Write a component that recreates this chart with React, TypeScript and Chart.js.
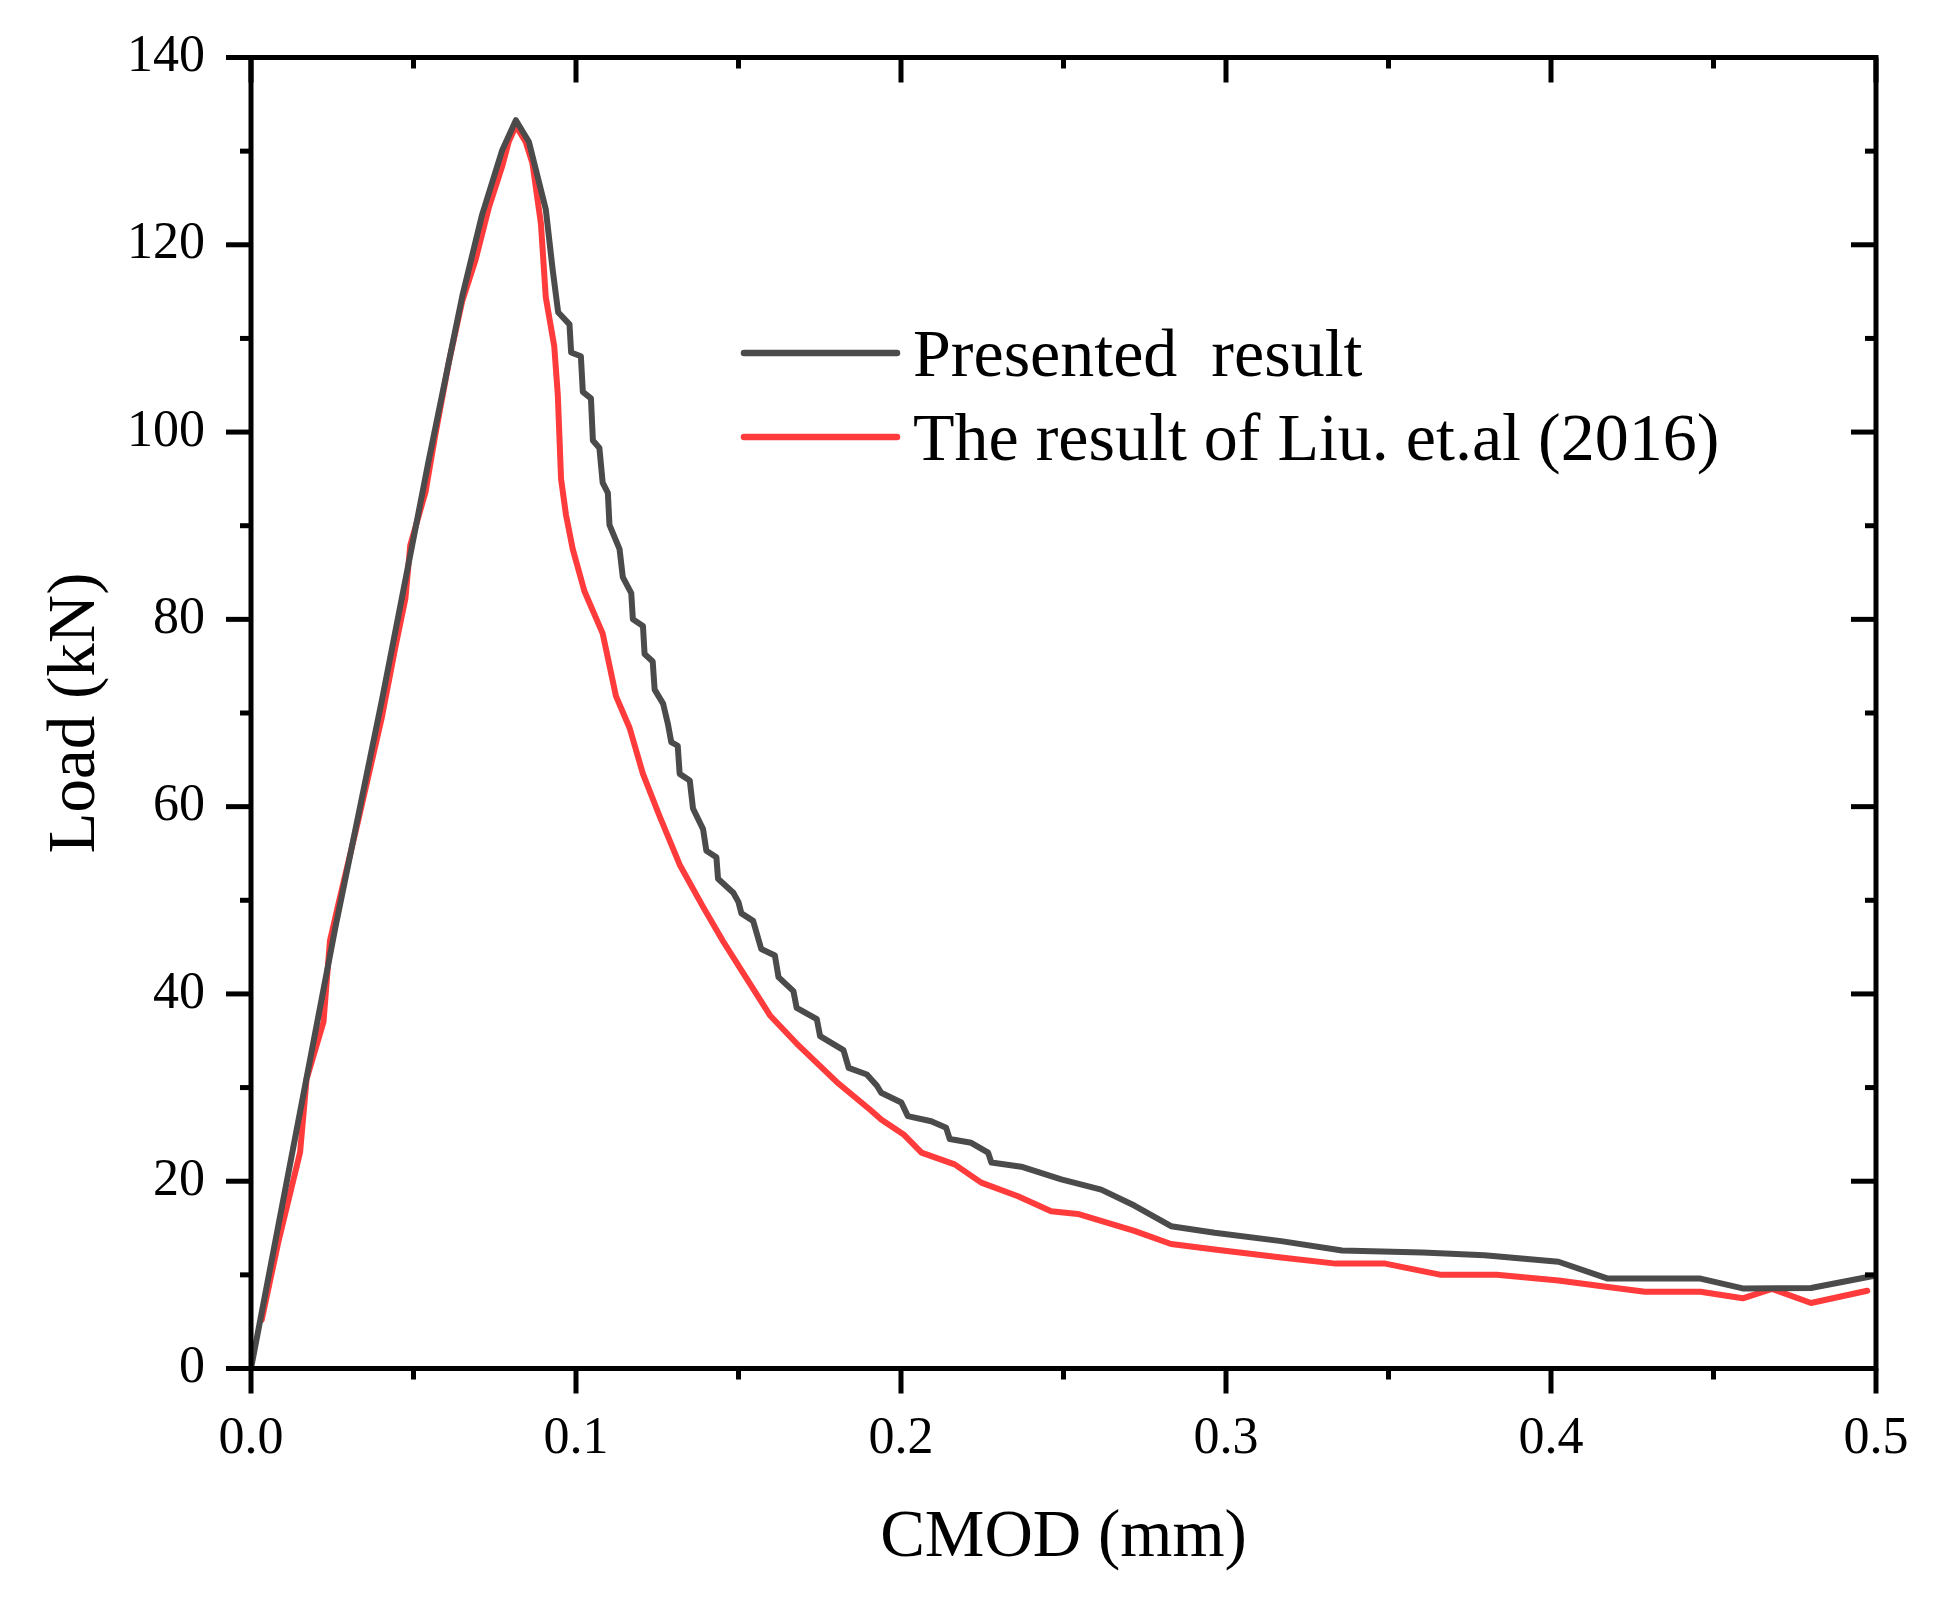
import React, { useEffect, useRef } from 'react';
import { Chart, registerables } from 'chart.js';

Chart.register(...registerables);

const FONT = "'Liberation Serif', 'Times New Roman', serif";

// CMOD (mm) / Load (kN) — Presented result
const presentedX = [
  0, 0.0259, 0.0403, 0.0547, 0.065, 0.0711, 0.0773, 0.0815, 0.0855, 0.0907, 0.0928, 0.0945,
  0.098, 0.0985, 0.1015, 0.1021, 0.1046, 0.1052, 0.1072, 0.1082, 0.1098, 0.1103, 0.1134, 0.1144,
  0.117, 0.1175, 0.1206, 0.1211, 0.1236, 0.1242, 0.1268, 0.1283, 0.1293, 0.1313, 0.1319, 0.135,
  0.136, 0.1391, 0.1401, 0.1432, 0.1437, 0.1484, 0.15, 0.1509, 0.1545, 0.157, 0.1612, 0.1623,
  0.1669, 0.1679, 0.1741, 0.1751, 0.1823, 0.1839, 0.1895, 0.1926, 0.1939, 0.2001, 0.2021, 0.2093,
  0.2139, 0.215, 0.2216, 0.2268, 0.2278, 0.237, 0.2493, 0.2616, 0.2718, 0.2831, 0.2965, 0.317,
  0.3357, 0.3605, 0.3795, 0.4023, 0.4175, 0.446, 0.459, 0.48, 0.4995,
];
const presentedY = [
  0, 47, 71.4, 97, 114.5, 123.2, 130.1, 133.3, 131, 123.8, 117.4, 112.8,
  111.5, 108.5, 108.1, 104.3, 103.6, 99.1, 98.3, 94.6, 93.5, 90.1, 87.5, 84.5,
  82.8, 80, 79.3, 76.3, 75.5, 72.5, 71, 68.8, 66.9, 66.5, 63.5, 62.8,
  59.8, 57.6, 55.3, 54.6, 52.3, 50.8, 49.8, 48.6, 47.8, 44.8, 44.1, 41.8,
  40.3, 38.5, 37.3, 35.5, 34, 32.1, 31.4, 30.2, 29.45, 28.4, 26.95, 26.4,
  25.7, 24.5, 24.1, 23.05, 22, 21.55, 20.2, 19.1, 17.4, 15.2, 14.5, 13.6,
  12.6, 12.4, 12.1, 11.4, 9.6, 9.6, 8.55, 8.6, 9.9,
];

// The result of Liu. et.al (2016)
const liuX = [
  0.0033, 0.0084, 0.0151, 0.0171, 0.0223, 0.0243, 0.0269, 0.0331, 0.0403, 0.0444, 0.0475, 0.049,
  0.0537, 0.0567, 0.0609, 0.065, 0.0691, 0.0732, 0.0773, 0.0793, 0.0815, 0.0845, 0.0866, 0.0892,
  0.0907, 0.0933, 0.0944, 0.0954, 0.0969, 0.099, 0.1026, 0.1082, 0.1123, 0.1165, 0.1206, 0.1257,
  0.1319, 0.1391, 0.1453, 0.1515, 0.1597, 0.1679, 0.1802, 0.1906, 0.1939, 0.2008, 0.2063, 0.2165,
  0.2247, 0.236, 0.2462, 0.2544, 0.2718, 0.2831, 0.2965, 0.317, 0.3338, 0.349, 0.3662, 0.3833,
  0.4023, 0.4175, 0.4289, 0.446, 0.459, 0.468, 0.48, 0.4973,
];
const liuY = [
  5.2, 13.5, 23.1, 30.9, 37, 45.7, 49.6, 58.7, 69.6, 77, 82.2, 87.9,
  93.6, 99.7, 107.5, 114, 118.4, 124, 128.4, 131, 132.7, 131, 128.7, 122.3,
  114.4, 109.2, 104, 95, 91.2, 87.5, 83, 78.5, 71.8, 68.4, 63.5, 59,
  53.8, 49.3, 45.6, 42.2, 37.7, 34.7, 30.6, 27.6, 26.6, 25, 23.05, 21.8,
  19.85, 18.4, 16.8, 16.5, 14.7, 13.3, 12.7, 11.85, 11.2, 11.2, 10, 10,
  9.4, 8.7, 8.2, 8.2, 7.5, 8.5, 7.0, 8.3,
];

const seriesLabels = ['Presented  result', 'The result of Liu. et.al (2016)'];
const seriesColors = ['#4b4b4b', '#ff3b3b'];

const xMajorTicks = [0, 0.1, 0.2, 0.3, 0.4, 0.5];
const xMinorTicks = [0.05, 0.15, 0.25, 0.35, 0.45];
const xTickLabels = ['0.0', '0.1', '0.2', '0.3', '0.4', '0.5'];
const yMajorTicks = [0, 20, 40, 60, 80, 100, 120, 140];
const yMinorTicks = [10, 30, 50, 70, 90, 110, 130];
const yTickLabels = ['0', '20', '40', '60', '80', '100', '120', '140'];

const xTitle = 'CMOD (mm)';
const yTitle = 'Load (kN)';

const framePlugin = {
  id: 'frameTicks',
  afterDatasetsDraw(chart: any) {
    const { ctx, chartArea: a, scales } = chart;
    const xs = scales.x;
    const ys = scales.y;
    ctx.save();
    ctx.strokeStyle = '#000';
    ctx.lineWidth = 5;
    ctx.lineCap = 'butt';
    ctx.lineJoin = 'miter';
    ctx.strokeRect(a.left, a.top, a.right - a.left, a.bottom - a.top);
    const line = (x1: number, y1: number, x2: number, y2: number) => {
      ctx.beginPath();
      ctx.moveTo(x1, y1);
      ctx.lineTo(x2, y2);
      ctx.stroke();
    };
    const MAJ = 25;
    const MIN = 11;
    xMajorTicks.forEach((v) => {
      const px = xs.getPixelForValue(v);
      line(px, a.bottom, px, a.bottom + MAJ);
      line(px, a.top, px, a.top + MAJ);
    });
    xMinorTicks.forEach((v) => {
      const px = xs.getPixelForValue(v);
      line(px, a.bottom, px, a.bottom + MIN);
      line(px, a.top, px, a.top + MIN);
    });
    yMajorTicks.forEach((v) => {
      const py = ys.getPixelForValue(v);
      line(a.left - MAJ, py, a.left, py);
      line(a.right - MAJ, py, a.right, py);
    });
    yMinorTicks.forEach((v) => {
      const py = ys.getPixelForValue(v);
      line(a.left - MIN, py, a.left, py);
      line(a.right - MIN, py, a.right, py);
    });
    ctx.restore();
  },
};

const legendPlugin = {
  id: 'insideLegend',
  afterDraw(chart: any) {
    const { ctx } = chart;
    const ds = chart.data.datasets;
    const x0 = 744;
    const x1 = 897;
    const rows = [353, 437];
    ctx.save();
    ds.forEach((d: any, i: number) => {
      const y = rows[i];
      ctx.strokeStyle = d.borderColor;
      ctx.lineWidth = 6.5;
      ctx.lineCap = 'round';
      ctx.beginPath();
      ctx.moveTo(x0, y);
      ctx.lineTo(x1, y);
      ctx.stroke();
      ctx.fillStyle = '#000';
      ctx.font = `68px ${FONT}`;
      ctx.textAlign = 'left';
      ctx.textBaseline = 'alphabetic';
      ctx.fillText(d.label, 913, y + 23);
    });
    ctx.restore();
  },
};

const zeroPad = (s: any) => {
  s.paddingTop = 0;
  s.paddingBottom = 0;
  s.paddingLeft = 0;
  s.paddingRight = 0;
};

export default function App() {
  const ref = useRef<HTMLCanvasElement | null>(null);

  useEffect(() => {
    document.body.style.margin = '0';
    const canvas = ref.current;
    if (!canvas) return;
    const toPoints = (xs: number[], ys: number[]) => xs.map((x, i) => ({ x, y: ys[i] }));
    const chart = new Chart(canvas, {
      type: 'line',
      data: {
        datasets: [
          {
            label: seriesLabels[0],
            data: toPoints(presentedX, presentedY),
            borderColor: seriesColors[0],
            backgroundColor: seriesColors[0],
            borderWidth: 6,
            pointRadius: 0,
            tension: 0,
            borderJoinStyle: 'round',
            borderCapStyle: 'round',
          },
          {
            label: seriesLabels[1],
            data: toPoints(liuX, liuY),
            borderColor: seriesColors[1],
            backgroundColor: seriesColors[1],
            borderWidth: 6,
            pointRadius: 0,
            tension: 0,
            borderJoinStyle: 'round',
            borderCapStyle: 'round',
          },
        ],
      },
      options: {
        responsive: false,
        animation: false,
        devicePixelRatio: 1,
        layout: { padding: { top: 57.5, right: 62, left: 0, bottom: 0 } },
        plugins: {
          legend: { display: false },
          tooltip: { enabled: false },
        },
        scales: {
          x: {
            type: 'linear',
            position: 'bottom',
            min: 0,
            max: 0.5,
            afterFit: (s: any) => {
              s.height = 242.5;
              zeroPad(s);
            },
            afterBuildTicks: (s: any) => {
              s.ticks = xMajorTicks.map((v) => ({ value: v }));
            },
            grid: { display: false, drawTicks: false },
            border: { display: false },
            ticks: {
              padding: 40,
              color: '#000',
              font: { family: FONT, size: 52 },
              maxRotation: 0,
              callback: (_v: any, i: number) => xTickLabels[i],
            },
            title: {
              display: true,
              text: xTitle,
              color: '#000',
              font: { family: FONT, size: 67 },
              padding: { top: 0, bottom: 32 },
            },
          },
          y: {
            type: 'linear',
            position: 'left',
            min: 0,
            max: 140,
            afterFit: (s: any) => {
              s.width = 251;
              zeroPad(s);
            },
            afterBuildTicks: (s: any) => {
              s.ticks = yMajorTicks.map((v) => ({ value: v }));
            },
            grid: { display: false, drawTicks: false },
            border: { display: false },
            ticks: {
              padding: 46,
              color: '#000',
              font: { family: FONT, size: 52 },
              callback: (_v: any, i: number) => yTickLabels[i],
            },
            title: {
              display: true,
              text: yTitle,
              color: '#000',
              font: { family: FONT, size: 67 },
              padding: { top: 36, bottom: 0 },
            },
          },
        },
      } as any,
      plugins: [framePlugin, legendPlugin],
    });
    return () => chart.destroy();
  }, []);

  return (
    <canvas
      ref={ref}
      width={1938}
      height={1611}
      style={{ display: 'block', width: 1938, height: 1611, background: '#fff' }}
    />
  );
}
